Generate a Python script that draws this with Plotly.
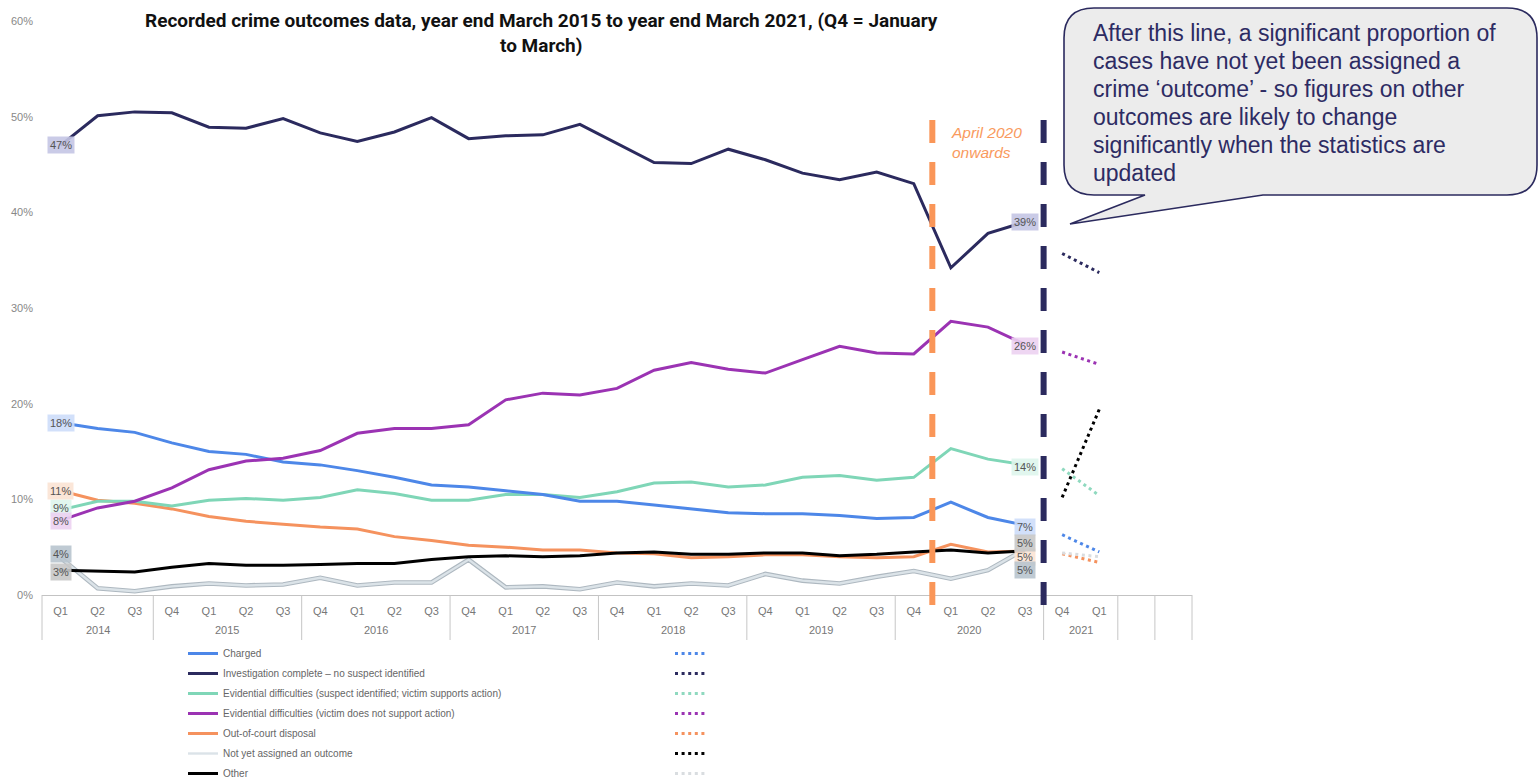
import plotly.graph_objects as go

# ---- categories ---------------------------------------------------------
quarters = ["Q1", "Q2", "Q3"] + ["Q4", "Q1", "Q2", "Q3"] * 6 + ["Q4", "Q1"]
year_groups = [("2014", 3), ("2015", 4), ("2016", 4), ("2017", 4), ("2018", 4),
               ("2019", 4), ("2020", 4), ("2021", 2), ("", 1), ("", 1)]

# ---- recorded outcomes, % of offences (2014 Q1 .. 2020 Q3) --------------
charged = [18.0, 17.4, 17.0, 15.9, 15.0, 14.7, 13.9, 13.6, 13.0, 12.3, 11.5, 11.3, 10.9, 10.5,
           9.8, 9.8, 9.4, 9.0, 8.6, 8.5, 8.5, 8.3, 8.0, 8.1, 9.7, 8.1, 7.3]
no_suspect = [47.0, 50.1, 50.5, 50.4, 48.9, 48.8, 49.8, 48.3, 47.4, 48.4, 49.9, 47.7, 48.0, 48.1,
              49.2, 47.2, 45.2, 45.1, 46.6, 45.5, 44.1, 43.4, 44.2, 43.0, 34.2, 37.8, 39.0]
evid_supports = [8.9, 9.8, 9.8, 9.3, 9.9, 10.1, 9.9, 10.2, 11.0, 10.6, 9.9, 9.9, 10.5, 10.5,
                 10.2, 10.8, 11.7, 11.8, 11.3, 11.5, 12.3, 12.5, 12.0, 12.3, 15.3, 14.2, 13.6]
evid_no_support = [7.8, 9.1, 9.8, 11.2, 13.1, 14.0, 14.3, 15.1, 16.9, 17.4, 17.4, 17.8, 20.4, 21.1,
                   20.9, 21.6, 23.5, 24.3, 23.6, 23.2, 24.6, 26.0, 25.3, 25.2, 28.6, 28.0, 26.2]
out_of_court = [10.9, 9.9, 9.6, 9.0, 8.2, 7.7, 7.4, 7.1, 6.9, 6.1, 5.7, 5.2, 5.0, 4.7,
                4.7, 4.4, 4.3, 3.9, 4.0, 4.2, 4.2, 4.0, 3.9, 4.0, 5.3, 4.5, 4.6]
not_assigned = [3.9, 0.7, 0.4, 0.9, 1.2, 1.0, 1.1, 1.8, 1.0, 1.3, 1.3, 3.7, 0.8, 0.9,
                0.6, 1.3, 0.9, 1.2, 1.0, 2.2, 1.5, 1.2, 1.9, 2.5, 1.7, 2.6, 4.8]
other = [2.6, 2.5, 2.4, 2.9, 3.3, 3.1, 3.1, 3.2, 3.3, 3.3, 3.7, 4.0, 4.1, 4.0,
         4.1, 4.4, 4.5, 4.25, 4.25, 4.4, 4.4, 4.1, 4.25, 4.5, 4.7, 4.4, 4.6]

# ---- provisional figures, 2021 Q4 and Q1 --------------------------------
charged_prov = [6.3, 4.5]
no_suspect_prov = [35.7, 33.7]
evid_supports_prov = [13.2, 10.4]
evid_no_support_prov = [25.4, 24.1]
out_of_court_prov = [4.3, 3.4]
not_assigned_prov = [10.2, 19.4]
other_prov = [4.4, 4.0]

y_ticks = [0, 10, 20, 30, 40, 50, 60]

callout_lines = [
    "After this line, a significant proportion of",
    "cases have not yet been assigned a",
    "crime ‘outcome’ - so figures on other",
    "outcomes are likely to change",
    "significantly when the statistics are",
    "updated",
]

# ---- figure geometry -----------------------------------------------------
W, H = 1540, 778
ML, MR, MT, MB = 42, 348, 21, 183
PW, PH = W - ML - MR, H - MT - MB
N_SLOTS = len(quarters) + 2
X_MIN, X_MAX = -0.5, N_SLOTS - 0.5


def px_x(px):
    return (px - ML) / PW


def px_y(py):
    return (H - MB - py) / PH


def slot_frac(x):
    return (x - X_MIN) / (X_MAX - X_MIN)


NAVY = "#2b2a5e"
series = [
    # name, values, provisional, line colour, prov colour, label bg, left shift, right shift
    ("Charged", charged, charged_prov, "#4d87e8", "#4d87e8", "rgba(205,221,249,0.9)", 0, -2),
    ("Investigation complete – no suspect identified", no_suspect, no_suspect_prov,
     NAVY, NAVY, "rgba(196,197,228,0.9)", 0, 0),
    ("Evidential difficulties (suspect identified; victim supports action)", evid_supports,
     evid_supports_prov, "#7fd6b7", "#8fd9bf", "rgba(222,245,236,0.9)", 2, -2),
    ("Evidential difficulties (victim does not support action)", evid_no_support,
     evid_no_support_prov, "#9b33b3", "#9b33b3", "rgba(236,210,241,0.9)", -1, -2),
    ("Out-of-court disposal", out_of_court, out_of_court_prov, "#f5925e", "#f5925e",
     "rgba(251,227,212,0.9)", 0, -6),
    ("Not yet assigned an outcome", not_assigned, not_assigned_prov, "#dbe3e8", "#000000",
     "rgba(184,196,206,0.9)", 4, -21),
    ("Other", other, other_prov, "#000000", "#d9dde0", "rgba(200,200,200,0.9)", -2, 8),
]

fig = go.Figure()

# outline under the pale "not yet assigned" line
fig.add_trace(go.Scatter(x=list(range(len(not_assigned))), y=not_assigned, mode="lines",
                         line=dict(color="#aeb8c0", width=4.6), showlegend=False,
                         hoverinfo="skip"))

draw_order = [5, 4, 6, 2, 0, 3, 1]
for idx in draw_order:
    name, vals, prov, col, pcol, bg, ls, rs = series[idx]
    fig.add_trace(go.Scatter(
        x=list(range(len(vals))), y=vals, mode="lines", name=name,
        line=dict(color=col, width=3 if idx != 5 else 2.4),
        legend="legend", legendrank=idx, legendgroup=f"g{idx}"))

for idx, (name, vals, prov, col, pcol, bg, ls, rs) in enumerate(series):
    start = len(vals)
    fig.add_trace(go.Scatter(
        x=list(range(start, start + len(prov))), y=prov, mode="lines", name=" ",
        line=dict(color=pcol, width=3, dash="3px,3.6px"),
        legend="legend2", legendrank=idx, legendgroup=f"p{idx}"))

# value labels at the first and last quarter
for name, vals, prov, col, pcol, bg, ls, rs in series:
    for xi, shift in ((0, ls), (len(vals) - 1, rs)):
        fig.add_annotation(x=xi, y=vals[xi], text=f"{round(vals[xi])}%", showarrow=False,
                           bgcolor=bg, borderpad=2, yshift=shift,
                           font=dict(size=11, color="#555555", family="Liberation Sans"))

# year labels and group dividers beneath the quarter labels
pos = 0
boundaries = [0]
for label, span in year_groups:
    mid = pos + span / 2 - 0.5
    if label:
        fig.add_annotation(x=mid, y=px_y(630), xref="x", yref="paper", text=label,
                           showarrow=False, yanchor="middle",
                           font=dict(size=11, color="#777777", family="Liberation Sans"))
    pos += span
    boundaries.append(pos)

shapes = []
for b in boundaries:
    xf = slot_frac(b - 0.5)
    shapes.append(dict(type="line", xref="paper", yref="paper", x0=xf, x1=xf,
                       y0=0, y1=px_y(640), line=dict(color="#c6c6c6", width=1)))

# period markers
for xv, col in ((23.5, "#fa9658"), (26.5, NAVY)):
    xf = slot_frac(xv)
    shapes.append(dict(type="line", xref="paper", yref="paper", x0=xf, x1=xf,
                       y0=px_y(120), y1=px_y(606),
                       line=dict(color=col, width=6, dash="23px,19px")))

# speech bubble
L, R, T, B, r = 1064, 1537, 8, 195, 30
pts = [
    ("M", (L + r, T)), ("L", (R - r, T)), ("Q", (R, T), (R, T + r)), ("L", (R, B - r)),
    ("Q", (R, B), (R - r, B)), ("L", (1263, B)), ("L", (1070, 224)), ("L", (1145, B)),
    ("L", (L + r, B)), ("Q", (L, B), (L, B - r)), ("L", (L, T + r)), ("Q", (L, T), (L + r, T)),
]
path = ""
for item in pts:
    cmd, coords = item[0], item[1:]
    path += cmd + " " + " ".join(f"{px_x(a):.5f},{px_y(b):.5f}" for a, b in coords) + " "
path += "Z"
shapes.append(dict(type="path", xref="paper", yref="paper", path=path,
                   fillcolor="#ececec", line=dict(color=NAVY, width=1.6)))

fig.update_layout(shapes=shapes)

for i, line in enumerate(callout_lines):
    fig.add_annotation(
        x=px_x(1091), y=px_y(33 + 28 * i), xref="paper", yref="paper", xanchor="left",
        yanchor="middle", align="left", showarrow=False, text=line,
        font=dict(size=23, color="#2d2b63", family="Liberation Sans"))

fig.add_annotation(
    x=px_x(949), y=px_y(122), xref="paper", yref="paper", xanchor="left", yanchor="top",
    align="left", showarrow=False, text="<i>April 2020<br>onwards</i>",
    font=dict(size=15.5, color="#f99a5e", family="Liberation Sans"))

fig.add_annotation(
    x=px_x(541), y=px_y(7), xref="paper", yref="paper", xanchor="center", yanchor="top",
    showarrow=False,
    text=("<b>Recorded crime outcomes data, year end March 2015 to year end March 2021, "
          "(Q4 = January<br>to March)</b>"),
    font=dict(size=19, color="#111111", family="Roboto"))

fig.update_layout(
    width=W, height=H, margin=dict(l=ML, r=MR, t=MT, b=MB, autoexpand=False),
    paper_bgcolor="white", plot_bgcolor="white",
    xaxis=dict(range=[X_MIN, X_MAX], showgrid=False, zeroline=False, showline=True,
               linecolor="#c3c3c3", linewidth=1, ticks="",
               tickvals=list(range(len(quarters))), ticktext=quarters,
               tickfont=dict(size=11, color="#777777", family="Liberation Sans"),
               ticklabelstandoff=6),
    yaxis=dict(range=[0, 60], showgrid=False, zeroline=False, showline=False, ticks="",
               tickvals=y_ticks, ticktext=[f"{v}%" for v in y_ticks],
               tickfont=dict(size=11, color="#888888", family="Liberation Sans"),
               ticklabelstandoff=8),
    legend=dict(x=px_x(183), y=px_y(639), xanchor="left", yanchor="top",
                orientation="v", tracegroupgap=1, bgcolor="rgba(0,0,0,0)",
                font=dict(size=10, color="#666666", family="Liberation Sans")),
    legend2=dict(x=px_x(670), y=px_y(639), xanchor="left", yanchor="top",
                 orientation="v", tracegroupgap=1, bgcolor="rgba(0,0,0,0)",
                 font=dict(size=10, color="#666666", family="Liberation Sans")),
    hovermode=False,
)

fig.write_html("out.html")
